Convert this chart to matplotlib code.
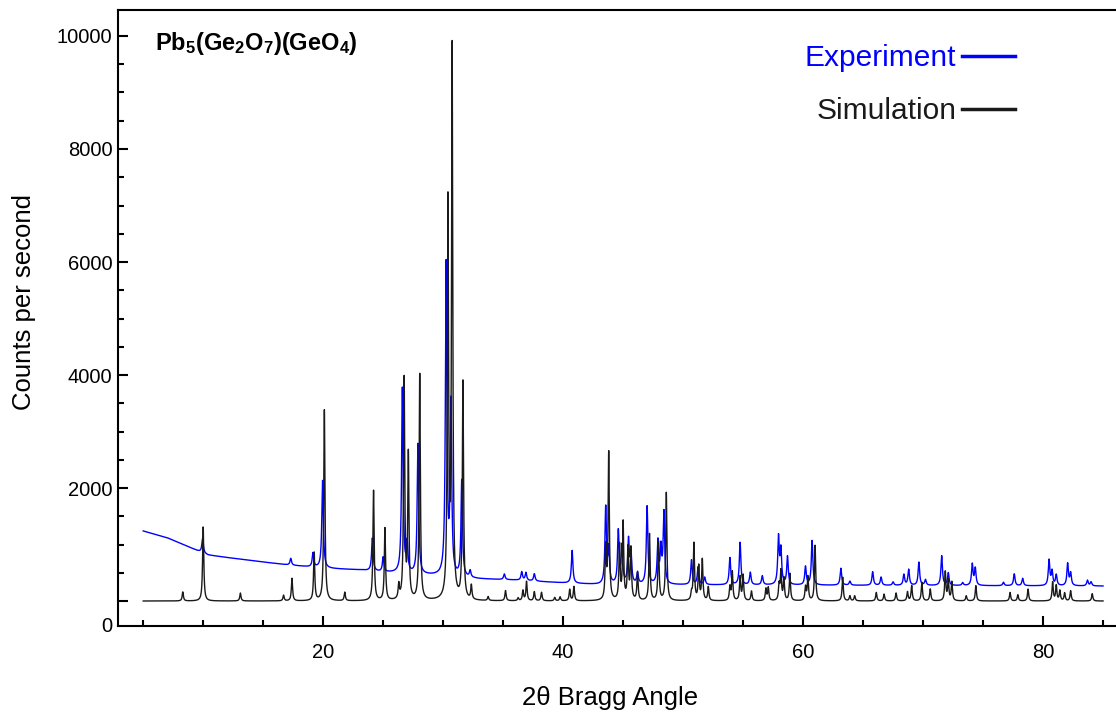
import numpy as np
import matplotlib
matplotlib.use("Agg")
import matplotlib.pyplot as plt
from matplotlib.ticker import MultipleLocator

plt.rcParams['font.family'] = ['Liberation Sans', 'DejaVu Sans']
plt.rcParams['mathtext.fontset'] = 'custom'
plt.rcParams['mathtext.rm'] = 'Liberation Sans'
plt.rcParams['mathtext.bf'] = 'Liberation Sans:bold'

# simulated pattern: peak positions (2theta) and peak heights (counts/s)
sim_pos = [8.3, 10.0, 13.1, 16.7, 17.4, 19.25, 20.1, 21.8, 24.2, 25.15,
           26.3, 26.75, 27.1, 28.05, 30.4, 30.75, 31.65, 32.35, 33.75, 35.2,
           36.25, 36.65, 36.95, 37.6, 38.2, 39.3, 39.75, 40.55, 40.9, 43.55,
           43.8, 44.7, 45.0, 45.4, 45.65, 46.2, 47.2, 47.95, 48.6, 50.7,
           50.9, 51.3, 51.6, 52.1, 53.9, 54.1, 54.75, 55.0, 55.7, 56.9,
           57.1, 58.0, 58.15, 58.4, 58.9, 60.2, 60.4, 61.0, 63.3, 63.9,
           64.3, 66.1, 66.75, 67.75, 68.7, 69.05, 69.9, 70.6, 71.85, 72.1,
           72.4, 73.6, 74.4, 77.25, 77.9, 78.75, 80.8, 81.1, 81.4, 81.8,
           82.3, 84.1]
sim_int = [160, 1310, 140, 100, 400, 850, 3380, 150, 1950, 1280,
           250, 3900, 2550, 4000, 6950, 9700, 3850, 250, 70, 180,
           50, 180, 340, 160, 150, 60, 70, 200, 250, 900,
           2600, 960, 1360, 900, 900, 480, 1180, 1030, 1910, 120,
           1010, 600, 720, 240, 240, 510, 420, 450, 170, 210,
           230, 270, 510, 390, 480, 240, 420, 980, 420, 90,
           90, 150, 120, 140, 160, 270, 330, 210, 510, 360,
           330, 90, 270, 150, 110, 210, 330, 270, 180, 140,
           180, 130]

# experiment: background read at a few angles + peaks above it
bg_x = [5, 7, 9.6, 10.4, 12, 15, 17, 20, 23, 25, 28.5, 33, 36, 40, 43, 85]
bg_y = [1240, 1120, 885, 815, 770, 690, 640, 580, 550, 510, 460, 390, 370, 320, 290, 265]
exp_pos = [9.95, 17.3, 19.15, 19.95, 24.1, 25.0, 26.6, 27.0, 27.9, 30.25,
           30.65, 31.55, 32.25, 35.1, 36.55, 36.9, 37.6, 40.75, 43.55, 43.8,
           44.6, 44.9, 45.45, 45.65, 46.2, 47.0, 47.9, 48.15, 48.4, 50.7,
           51.25, 51.8, 53.9, 54.75, 55.6, 56.6, 57.95, 58.15, 58.7, 60.2,
           60.75, 63.15, 63.9, 65.8, 66.5, 67.5, 68.4, 68.8, 69.65, 70.2,
           71.55, 72.1, 73.3, 74.1, 74.35, 76.7, 77.6, 78.3, 80.5, 80.75,
           81.1, 82.05, 82.3, 83.7, 84.0]
exp_amp = [250, 120, 250, 1550, 580, 260, 3270, 500, 2300, 5500,
           3000, 1700, 120, 100, 150, 140, 130, 580, 1350, 600,
           930, 650, 760, 550, 200, 1380, 740, 600, 1260, 435,
           310, 130, 480, 750, 220, 160, 830, 600, 500, 325,
           785, 300, 70, 240, 145, 60, 190, 280, 410, 100,
           525, 220, 50, 375, 300, 60, 210, 130, 450, 250,
           190, 390, 220, 100, 70]


def profile(x, pos, amp, fwhm):
    y = np.zeros_like(x)
    hw = fwhm / 2
    for p, a in zip(pos, amp):
        y += a / (1 + ((x - p) / hw) ** 2)
    return y


tt = np.arange(5, 85.001, 0.01)
sim = profile(tt, sim_pos, sim_int, 0.12)
exp = np.interp(tt, bg_x, bg_y) + profile(tt, exp_pos, exp_amp, 0.15)

W, H = 1116, 713
fig = plt.figure(figsize=(W / 100, H / 100), dpi=100)
ax = fig.add_axes([118 / W, 87 / H, 998 / W, 616 / H])

ax.plot(tt, exp, color='#0000ff', lw=1.0, label='Experiment')
ax.plot(tt, sim, color='#1a1a1a', lw=1.0, label='Simulation')

ax.set_xlim(2.9, 86.08)
ax.set_ylim(-442, 10460)
ax.xaxis.set_major_locator(MultipleLocator(20))
ax.xaxis.set_minor_locator(MultipleLocator(5))
ax.set_yticks([0, 2000, 4000, 6000, 8000, 10000])
ax.set_yticklabels(['', '2000', '4000', '6000', '8000', '10000'])
ax.yaxis.set_minor_locator(MultipleLocator(500))
ax.text(-0.006, ax.get_ylim()[0], '0', transform=ax.get_yaxis_transform(),
        ha='right', va='center', fontsize=14.5)

ax.spines['right'].set_visible(False)
for s in ['left', 'top', 'bottom']:
    ax.spines[s].set_linewidth(1.5)
ax.tick_params(which='both', direction='in', width=1.5, labelsize=14.5, top=False, right=False)
ax.tick_params(which='major', length=7.5)
ax.tick_params(which='minor', length=4)
ax.tick_params(axis='y', pad=4)
ax.tick_params(axis='x', pad=12)

ax.set_xlabel('2θ Bragg Angle', fontsize=18.5)
ax.set_ylabel('Counts per second', fontsize=18.5)
ax.xaxis.set_label_coords(0.493, -0.097)
ax.yaxis.set_label_coords(-0.082, 0.526)

fig.text(155 / W, 1 - 50 / H, r'$\mathbf{Pb_5(Ge_2O_7)(GeO_4)}$', fontsize=17, va='baseline')

leg = ax.legend(loc='upper right', bbox_to_anchor=(1015 / W, 1 - 44 / H),
                bbox_transform=fig.transFigure, frameon=False, markerfirst=False,
                labelcolor='linecolor', fontsize=21.5, handlelength=1.77,
                handletextpad=0.2, labelspacing=0.85, borderpad=0, borderaxespad=0)
for ln in leg.get_lines():
    ln.set_linewidth(2.5)

fig.savefig('out.png', dpi=100)
